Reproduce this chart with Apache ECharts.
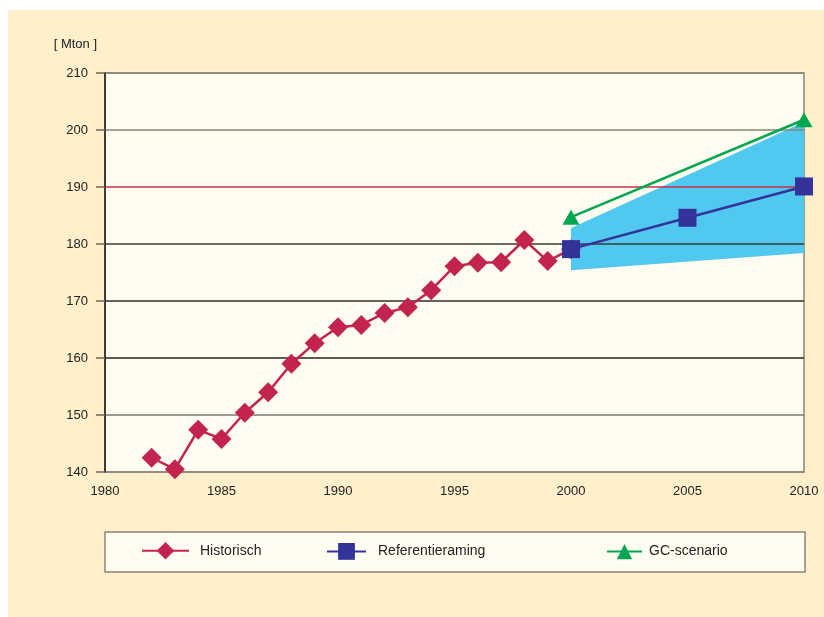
<!DOCTYPE html>
<html>
<head>
<meta charset="utf-8">
<script src="https://cdn.jsdelivr.net/npm/echarts@6/dist/echarts.min.js"></script>
<style>
html,body{margin:0;padding:0;background:#ffffff;}
#chart{width:824px;height:617px;}
</style>
</head>
<body>
<div id="chart"></div>
<script>
// Data
var histYears  = [1982,1983,1984,1985,1986,1987,1988,1989,1990,1991,1992,1993,1994,1995,1996,1997,1998,1999,2000];
var histValues = [142.5,140.5,147.4,145.8,150.4,154.0,159.0,162.6,165.4,165.8,167.9,168.9,171.9,176.1,176.7,176.8,180.7,177.0,179.1];
var refYears   = [2000,2005,2010];
var refValues  = [179.1,184.6,190.1];
var gcYears    = [2000,2010];
var gcValues   = [184.7,201.8];
var bandYears  = [2000,2010];
var bandLow    = [175.4,178.4];
var bandHigh   = [182.8,201.4];
var yTicks     = [140,150,160,170,180,190,200,210];
var xTicks     = [1980,1985,1990,1995,2000,2005,2010];

var FONT = '"Liberation Sans", Arial, sans-serif';
function pairs(xs, ys){ return xs.map(function(x,i){ return [x, ys[i]]; }); }
var bandData = bandYears.map(function(x,i){ return [x, bandLow[i], bandHigh[i]]; });

function renderBand(params, api){
  var i = params.dataIndex;
  if (i >= bandData.length - 1) return null;
  var a = bandData[i], b = bandData[i+1];
  var pts = [api.coord([a[0], a[1]]), api.coord([b[0], b[1]]), api.coord([b[0], b[2]]), api.coord([a[0], a[2]])];
  return {type:'polygon', z2:-10, shape:{points:pts}, style:{fill:'#50C8F0'}};
}

var chart = echarts.init(document.getElementById('chart'), null, {renderer:'canvas'});
var option = {
  animation:false,
  textStyle:{fontFamily:FONT},
  grid:{left:105, right:20, top:73, bottom:145, show:false},
  graphic:[
    {type:'rect', z:-100, silent:true, shape:{x:8, y:10, width:816, height:607}, style:{fill:'#FFF0CB'}},
    {type:'rect', z:-90, silent:true, shape:{x:105, y:73, width:699, height:399}, style:{fill:'#FFFDF0', stroke:'#8a8474', lineWidth:1.5}},
    {type:'rect', z:-50, silent:true, shape:{x:105, y:532, width:700, height:40}, style:{fill:'#FFFDF0', stroke:'#8a8474', lineWidth:1.5}}
  ],
  xAxis:{
    type:'value', min:xTicks[0], max:xTicks[xTicks.length-1], interval:5, z:1,
    axisLine:{show:false}, axisTick:{show:false}, splitLine:{show:false},
    axisLabel:{color:'#222', fontSize:13, margin:13, fontFamily:FONT, formatter:function(v){return String(v);}}
  },
  yAxis:{
    type:'value', min:yTicks[0], max:yTicks[yTicks.length-1], interval:10, z:1,
    name:'[ Mton ]', nameLocation:'end', nameGap:22,
    nameTextStyle:{color:'#222', fontSize:13, align:'right', padding:[0,8,0,0], fontFamily:FONT},
    axisLine:{show:true, lineStyle:{color:'#1a1a1a', width:1.5}},
    axisTick:{show:true, length:9, lineStyle:{color:'#6f6a5e', width:1.5}},
    axisLabel:{color:'#222', fontSize:13, margin:17, fontFamily:FONT},
    splitLine:{show:true, lineStyle:{width:1.5, color:['#8a8474','#7d786c','#222222','#2e2e2e','#3a3a3a','#c4304f','#8a8474','#8a8474']}}
  },
  legend:[
    {data:['Historisch'], left:141, top:542, padding:0, itemWidth:47, itemHeight:22, textStyle:{color:'#222', fontSize:14, padding:[0,0,0,6], fontFamily:FONT}},
    {data:['Referentieraming'], left:326, top:543, padding:0, itemWidth:39, itemHeight:21, textStyle:{color:'#222', fontSize:14, padding:[0,0,0,7], fontFamily:FONT}},
    {data:['GC-scenario'], left:606, top:544, padding:0, itemWidth:35, itemHeight:19, textStyle:{color:'#222', fontSize:14, padding:[0,0,0,2], fontFamily:FONT}}
  ],
  series:[
    {name:'band', type:'custom', z:0, silent:true, renderItem:renderBand,
     encode:{x:0, y:[1,2]}, data:bandData},
    {name:'Historisch', type:'line', z:3, symbol:'diamond', symbolSize:20,
     itemStyle:{color:'#C2244E'}, lineStyle:{color:'#C2244E', width:2.5},
     data:pairs(histYears, histValues)},
    {name:'GC-scenario', type:'line', z:4, symbol:'triangle', symbolSize:[17,15],
     itemStyle:{color:'#00A651'}, lineStyle:{color:'#00A651', width:2.5},
     data:pairs(gcYears, gcValues)},
    {name:'Referentieraming', type:'line', z:5, symbol:'rect', symbolSize:18,
     itemStyle:{color:'#333399'}, lineStyle:{color:'#333399', width:2.5},
     data:pairs(refYears, refValues)}
  ]
};
chart.setOption(option);
</script>
</body>
</html>
